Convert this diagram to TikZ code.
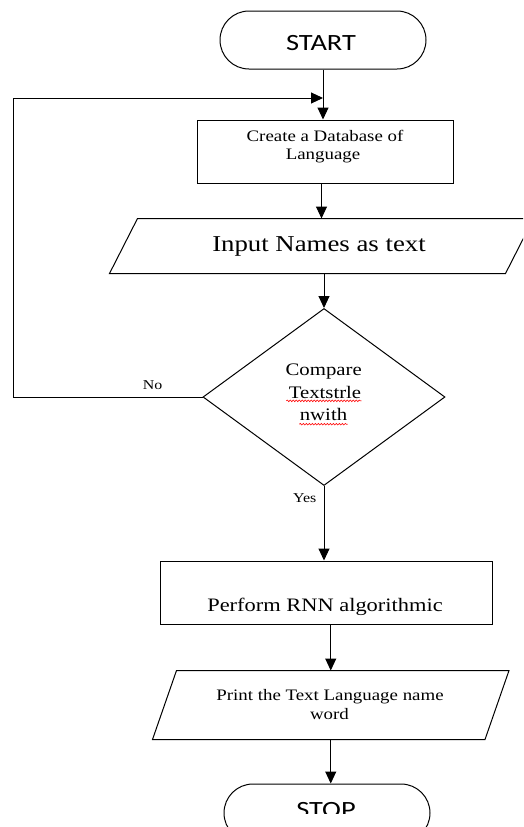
\documentclass[tikz,border=0pt]{standalone}
\usepackage{fontspec}
\setmainfont{Liberation Serif}[FakeStretch=1.18]
\newfontfamily\termfont{Carlito}[FakeStretch=1.22]
\usetikzlibrary{arrows.meta,shapes.geometric,shapes.misc,decorations.pathmorphing,calc}
\begin{document}
\begin{tikzpicture}[x=1pt,y=-1pt,
  line width=1pt,
  arr/.style={-{Triangle[length=12pt,width=11pt]}},
  terminal/.style={draw, rounded rectangle, minimum width=206pt, minimum height=58pt, inner sep=0pt},
  procbox/.style={draw, rectangle, inner sep=0pt},
  paraframe/.style={rectangle, inner sep=0pt},
  decision/.style={draw, diamond, inner sep=0pt, minimum width=242pt, minimum height=177pt, aspect=1.367},
  txt/.style={anchor=base, inner sep=0pt},
  termtxt/.style={anchor=base, inner sep=0pt, font=\termfont\fontsize{23.3}{28}\selectfont},
  lbl/.style={anchor=base, inner sep=0pt, font=\fontsize{13.5}{16}\selectfont},
  spell/.style={draw=red, line width=0.6pt, decorate, decoration={snake, amplitude=0.8pt, segment length=3pt}}
]
\fill[white] (0,0) rectangle (523,827);
\useasboundingbox (0,0) rectangle (523,827);
\clip (0,0) rectangle (523,827);

% START
\node[terminal] (start) at (323,40) {};
\node[termtxt] (starttxt) at (321,50) {START};

% Database box
\node[procbox, minimum width=256pt, minimum height=63pt] (db) at (325,151.5) {};
\node[txt, font=\fontsize{16}{19}\selectfont] (dbt1) at (325,141) {Create a Database of};
\node[txt, font=\fontsize{16}{19}\selectfont] (dbt2) at (323,159.3) {Language};

% Input parallelogram
\node[paraframe, minimum width=395pt, minimum height=54pt] (in) at (321.5,246) {};
\draw ([xshift=14pt]in.north west) -- ([xshift=14pt]in.north east) -- ([xshift=-14pt]in.south east) -- ([xshift=-14pt]in.south west) -- cycle;
\node[txt, font=\fontsize{22.7}{27}\selectfont] (intxt) at (319,251.7) {Input Names as text};

% Decision
\node[decision] (cmp) at (324,397) {};
\node[txt, font=\fontsize{17.6}{23}\selectfont] (cmpt1) at (323.7,375) {Compare};
\node[txt, font=\fontsize{17.6}{23}\selectfont] (cmpt2) at (325,398.3) {Textstrle};
\node[txt, font=\fontsize{17.6}{23}\selectfont] (cmpt3) at (323.5,420.7) {nwith};
\draw[spell] ($(cmpt2.base west)+(-2,2.5)$) -- ($(cmpt2.base east)+(0,2.5)$);
\draw[spell] ($(cmpt3.base west)+(0,3.5)$) -- ($(cmpt3.base east)+(0,3.5)$);

% RNN box
\node[procbox, minimum width=332pt, minimum height=63pt] (rnn) at (326,592.5) {};
\node[txt, font=\fontsize{19}{23}\selectfont] (rnntxt) at (325,611) {Perform RNN algorithmic};

% Output parallelogram
\node[paraframe, minimum width=331.5pt, minimum height=68pt] (out) at (330.75,705) {};
\draw ([xshift=12pt]out.north west) -- ([xshift=12pt]out.north east) -- ([xshift=-12pt]out.south east) -- ([xshift=-12pt]out.south west) -- cycle;
\node[txt, font=\fontsize{16}{19}\selectfont] (outt1) at (330,700) {Print the Text Language name};
\node[txt, font=\fontsize{16}{19}\selectfont] (outt2) at (329.5,719.3) {word};

% STOP
\node[terminal] (stop) at (327,813) {};
\begin{scope}
\clip (0,0) rectangle (523,813.5);
\node[termtxt] (stoptxt) at (326,817) {STOP};
\end{scope}

% connectors
\coordinate (fbl) at (13,397);
\coordinate (fbt) at (13,98);
\coordinate (fbend) at (start.south |- fbt);
\draw[arr] (start.south) -- (start.south |- db.north);
\draw[arr] (cmp.west) -- (fbl) -- (fbt) -- (fbend);
\draw[arr] (db.south -| in.north) -- (in.north);
\draw[arr] (in.south -| cmp.north) -- (cmp.north);
\draw[arr] (cmp.south) -- (cmp.south |- rnn.north);
\draw[arr] (rnn.south -| out.north) -- (out.north);
\draw[arr] (out.south) -- (out.south |- stop.north);

% labels
\node[lbl] (nolbl) at (152.5,389.3) {No};
\node[lbl] (yeslbl) at (304.7,502.7) {Yes};
\end{tikzpicture}
\end{document}
